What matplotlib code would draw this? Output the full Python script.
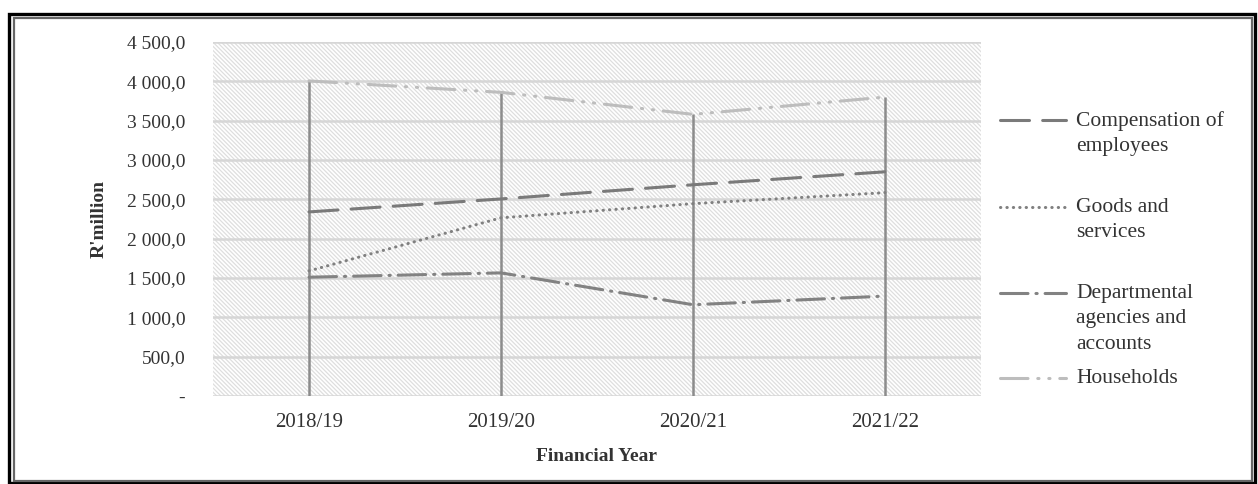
import matplotlib
matplotlib.use('Agg')
import matplotlib.pyplot as plt
from matplotlib.patches import Rectangle
from matplotlib.lines import Line2D
from matplotlib.ticker import FuncFormatter

plt.rcParams['font.family'] = 'Liberation Serif'
plt.rcParams['hatch.linewidth'] = 0.9

years = ['2018/19', '2019/20', '2020/21', '2021/22']
compensation = [2340, 2505, 2685, 2850]
goods_services = [1590, 2265, 2445, 2585]
departmental = [1510, 1565, 1160, 1270]
households = [4005, 3860, 3580, 3800]

series = [
    ('Compensation of\nemployees', compensation, '#7a7a7a', (0, (9.5, 4.3))),
    ('Goods and\nservices', goods_services, '#808080', (0, (0.1, 2.0))),
    ('Departmental\nagencies and\naccounts', departmental, '#828282', (0, (9.0, 2.6, 0.4, 2.6))),
    ('Households', households, '#bdbdbd', (0, (9.0, 3.2, 0.4, 3.2, 0.4, 3.2))),
]


def fmt(v, pos):
    if v == 0:
        return '-'
    return f'{v:,.1f}'.replace(',', ' ').replace('.', ',')


W, H = 1258, 484
fig = plt.figure(figsize=(W / 100, H / 100), dpi=100)
ax = fig.add_axes([213 / W, 1 - 396 / H, 768 / W, 354 / H])

# hatched plot area
ax.add_patch(Rectangle((0, 0), 1, 1, transform=ax.transAxes, facecolor='white',
                       edgecolor='#dedede', hatch='\\' * 8, lw=0, zorder=0))
for s in ax.spines.values():
    s.set_visible(False)

xs = list(range(len(years)))
for y in range(0, 4501, 500):
    ax.axhline(y, color='#d6d6d6', lw=1.8, zorder=1)

# drop lines from highest value to the axis
tops = [max(v) for v in zip(compensation, goods_services, departmental, households)]
ax.vlines(xs, 0, tops, color='#8c8c8c', lw=1.8, zorder=2)

for label, vals, color, ls in series:
    ax.plot(xs, vals, color=color, lw=2.2, linestyle=ls, dash_capstyle='round', zorder=3)

ax.set_xlim(-0.5, 3.5)
ax.set_ylim(0, 4500)
ax.set_xticks(xs)
ax.set_xticklabels(years)
ax.set_yticks(range(0, 4501, 500))
ax.yaxis.set_major_formatter(FuncFormatter(fmt))
ax.tick_params(length=0, labelcolor='#333333')
ax.tick_params(axis='x', labelsize=15, pad=12)
ax.tick_params(axis='y', labelsize=14, pad=20)
ax.set_ylabel("R'million", fontsize=14, fontweight='bold', color='#333333', labelpad=14)
ax.set_xlabel('Financial Year', fontsize=14, fontweight='bold', color='#333333', labelpad=12)

# legend, entries aligned to their first text line
leg_y = [120, 207, 293, 378]
for (label, vals, color, ls), yp in zip(series, leg_y):
    yf = 1 - yp / H
    fig.add_artist(Line2D([1000 / W, 1066 / W], [yf, yf], color=color, lw=2.2,
                          linestyle=ls, dash_capstyle='round', transform=fig.transFigure))
    fig.text(1076 / W, 1 - (yp - 9) / H, label, fontsize=15.5, color='#333333', va='top',
             ha='left', linespacing=1.45, transform=fig.transFigure)

# double frame
fig.add_artist(Rectangle((9 / W, 1 / H), 1246 / W, (H - 15) / H, transform=fig.transFigure,
                         fill=False, edgecolor='black', lw=2.4))
fig.add_artist(Rectangle((14 / W, 3 / H), 1238 / W, (H - 21) / H, transform=fig.transFigure,
                         fill=False, edgecolor='#666666', lw=1.6))

fig.savefig('out.png', dpi=100)
